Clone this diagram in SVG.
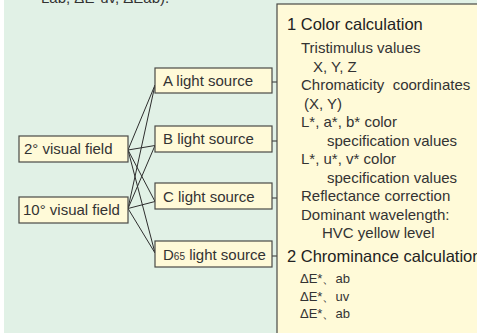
<svg xmlns="http://www.w3.org/2000/svg" width="477" height="333" viewBox="0 0 477 333">
<style>
.box{fill:#fffad8;stroke:#4a4a46;stroke-width:1.2}
.t{font-family:"Liberation Sans",Arial,sans-serif;font-size:15px;fill:#333}
.h{font-family:"Liberation Sans",Arial,sans-serif;font-size:16.5px;fill:#222}
.s{font-family:"Liberation Sans",Arial,sans-serif;font-size:13px;fill:#333}
.c{stroke:#2e2e2e;stroke-width:1;fill:none}
</style>
<rect x="0" y="0" width="477" height="333" fill="#ffffff"/>
<rect x="4" y="0" width="473" height="333" fill="#e1f1e6"/>
<text class="t" x="41" y="3" font-size="17">Lab, ΔE*uv, ΔEab).</text>
<g id="connectors">
<path class="c" d="M128 150L155 85M128 150L155 145.5M128 150L155 201.5M128 150L155 253"/>
<path class="c" d="M128 208.5L155 85M128 208.5L155 145.5M128 208.5L155 201.5M128 208.5L155 253"/>
<path class="c" d="M272 82H277M272 141H277M272 198H277M272 256H277"/>
</g>
<g id="field2">
<rect class="box" x="19" y="136" width="109" height="26"/>
<text class="t" x="24" y="154">2° visual field</text>
</g>
<g id="field10">
<rect class="box" x="19" y="197" width="109" height="26"/>
<text class="t" x="23" y="215">10° visual field</text>
</g>
<g id="srcA">
<rect class="box" x="155" y="68" width="117" height="25"/>
<text class="t" x="163" y="86">A light source</text>
</g>
<g id="srcB">
<rect class="box" x="155" y="126" width="117" height="26"/>
<text class="t" x="163" y="144">B light source</text>
</g>
<g id="srcC">
<rect class="box" x="155" y="183" width="117" height="26"/>
<text class="t" x="163" y="202">C light source</text>
</g>
<g id="srcD">
<rect class="box" x="155" y="241" width="117" height="26"/>
<text class="t" x="163" y="260">D<tspan font-size="10">65</tspan> light source</text>
</g>
<g id="calc">
<rect class="box" x="277" y="4" width="220" height="345"/>
<text class="h" x="287" y="30">1 Color calculation</text>
<text class="t" x="301" y="53">Tristimulus values</text>
<text class="t" x="313" y="71.5">X, Y, Z</text>
<text class="t" x="301" y="90" xml:space="preserve">Chromaticity  coordinates</text>
<text class="t" x="304" y="108.5">(X, Y)</text>
<text class="t" x="301" y="127">L*, a*, b* color</text>
<text class="t" x="327" y="145.5">specification values</text>
<text class="t" x="301" y="164">L*, u*, v* color</text>
<text class="t" x="327" y="182.5">specification values</text>
<text class="t" x="301" y="201">Reflectance correction</text>
<text class="t" x="301" y="219.5">Dominant wavelength:</text>
<text class="t" x="322" y="238">HVC yellow level</text>
<text class="h" x="287" y="262">2 Chrominance calculation</text>
<text class="s" x="300" y="283">ΔE*、ab</text>
<text class="s" x="300" y="300.5">ΔE*、uv</text>
<text class="s" x="300" y="318">ΔE*、ab</text>
</g>
</svg>
